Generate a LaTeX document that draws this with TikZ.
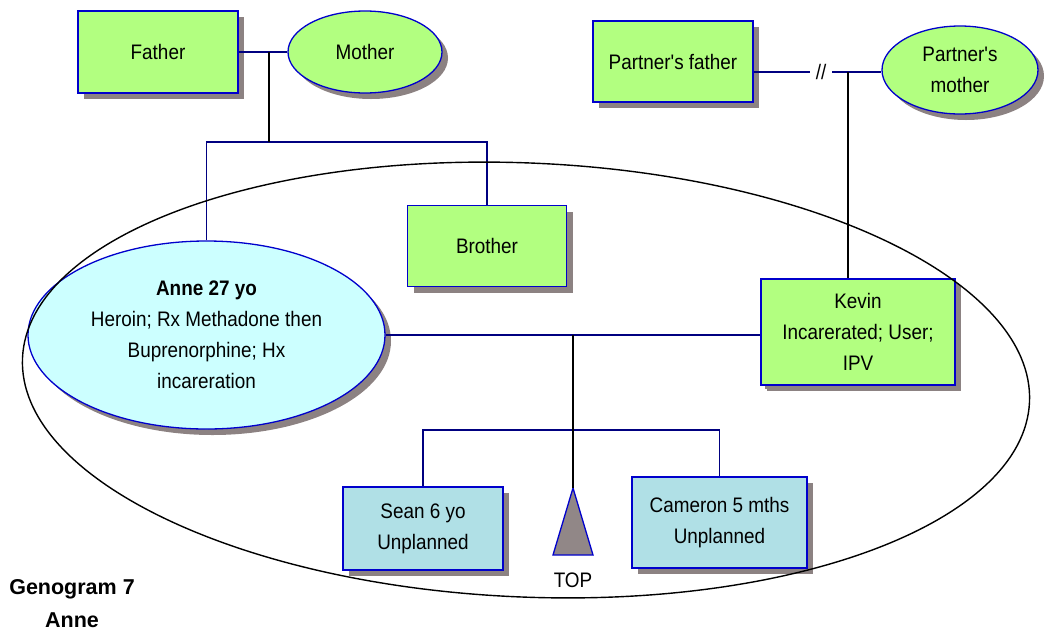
\documentclass[tikz,border=0pt]{standalone}
\usepackage{fontspec}
\setmainfont{Liberation Sans}[FakeStretch=0.9, Ligatures=TeXOff]
\newfontfamily\titlefont{Liberation Sans}
\usetikzlibrary{shapes.geometric,shadows}

\definecolor{boxgreen}{RGB}{178,255,128}
\definecolor{annecyan}{RGB}{204,255,255}
\definecolor{childblue}{RGB}{176,224,230}
\definecolor{edgeblue}{RGB}{0,0,204}
\definecolor{shadowgray}{RGB}{140,130,130}
\definecolor{topgray}{RGB}{145,135,135}
\definecolor{kinnavy}{RGB}{0,0,128}

\begin{document}
\begin{tikzpicture}[x=1pt,y=-1pt,
  person/.style={draw=edgeblue, line width=1.3pt, align=center, inner sep=0pt,
    font=\fontsize{21}{31}\selectfont,
    drop shadow={shadow xshift=6pt, shadow yshift=-6pt, fill=shadowgray, opacity=1}},
  smallshadow/.style={drop shadow={shadow xshift=4pt, shadow yshift=-4pt, fill=shadowgray, opacity=1}},
  male/.style={person, rectangle, fill=boxgreen},
  female/.style={person, ellipse, fill=boxgreen},
  child/.style={person, rectangle, fill=childblue},
  kin/.style={draw=kinnavy, line width=1.8pt},
  descent/.style={draw=black, line width=1.6pt},
  household/.style={draw=black, line width=1.4pt}]

\useasboundingbox (0,0) rectangle (1050,630);

% grandparents
\node[male, minimum width=160pt, minimum height=82pt] (father) at (158,52) {Father};
\node[female, minimum width=154pt, minimum height=82pt] (mother) at (365,52) {Mother};
\node[male, minimum width=160pt, minimum height=81pt] (pfather) at (673,61.5) {Partner's father};
\node[female, minimum width=156pt, minimum height=88pt] (pmother) at (960,70) {Partner's\\mother};

% current generation
\node[male, minimum width=159pt, minimum height=81pt] (brother) at (487,246) {Brother};
\node[person, ellipse, fill=annecyan, smallshadow, minimum width=357pt, minimum height=188pt] (anne) at (206.5,335)
  {{\bfseries Anne 27 yo}\\Heroin; Rx Methadone then\\Buprenorphine; Hx\\incareration};
\node[male, smallshadow, minimum width=194pt, minimum height=106pt] (kevin) at (858,332)
  {Kevin\\Incarerated; User;\\IPV};

% children
\node[child, minimum width=160pt, minimum height=83pt] (sean) at (423,528.5) {Sean 6 yo\\Unplanned};
\node[child, minimum width=175pt, minimum height=91pt] (cameron) at (719.5,522.5) {Cameron 5 mths\\Unplanned};

% termination of pregnancy
\coordinate (topapex) at (573,488);
\coordinate (topleft) at (553,555);
\coordinate (topright) at (593,555);
\draw[draw=edgeblue, fill=topgray, line width=1.3pt] (topapex) -- (topleft) -- (topright) -- cycle;
\node[font=\fontsize{21}{31}\selectfont, inner sep=0pt] (toplabel) at (573,580) {TOP};

% junction points
\coordinate (u1) at (269,52);
\coordinate (sib1) at (269,142);
\node[font=\fontsize{21}{31}\selectfont, inner ysep=0pt, inner xsep=6pt] (brk) at (821,72) {//};
\coordinate (u2) at (848,72);
\coordinate (u3) at (573,335);
\coordinate (sib2) at (573,430);

% parents of Anne and her brother
\draw[kin] (father.east) -- (mother.west);
\draw[kin] (anne.north) -- (anne.north |- sib1) -- (brother.north |- sib1) -- (brother.north);
\draw[descent] (u1) -- (sib1);

% Kevin's parents, separated
\draw[kin] (pfather.east |- brk.west) -- (brk.west);
\draw[kin] (brk.east) -- (pmother.west |- brk.east);
\draw[descent] (u2) -- (u2 |- kevin.north);

% Anne and Kevin with their children
\draw[kin] (anne.east |- u3) -- (kevin.west |- u3);
\draw[kin] (sean.north) -- (sean.north |- sib2) -- (cameron.north |- sib2) -- (cameron.north);
\draw[descent] (u3) -- (topapex);

% household boundary
\draw[household, rotate around={-2.5:(526,380)}] (526,380) ellipse [x radius=504pt, y radius=217pt];

% caption
\node[font=\titlefont\bfseries\fontsize{21.5}{33}\selectfont, align=center, inner sep=0pt] (title) at (72,603.5) {Genogram 7\\Anne};
\end{tikzpicture}
\end{document}
